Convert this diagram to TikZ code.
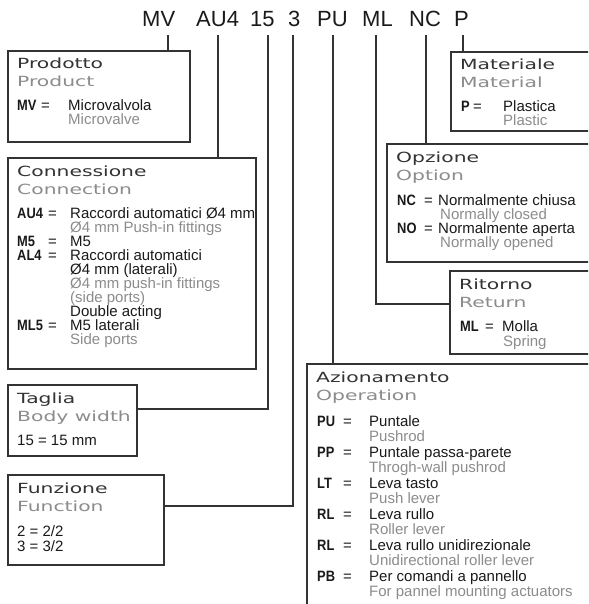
\documentclass[tikz,border=0pt]{standalone}
\usepackage{graphicx}
\usepackage{fontspec}
\setmainfont{Liberation Sans}
\newfontfamily\ttlfont[FakeStretch=1.45]{DejaVu Sans}
\definecolor{ln}{HTML}{333333}
\definecolor{en}{HTML}{8C8C8C}
\definecolor{it}{HTML}{1A1A1A}
\newcommand\codeq[4]{\makebox[#1pt][l]{\scalebox{0.86}[1]{\bfseries #3}}\makebox[#2pt][l]{=}#4}
\tikzset{
  box/.style={draw=ln, line width=1.2pt, fill=white, anchor=north west, inner sep=0pt, outer sep=0pt},
  wire/.style={draw=ln, line width=1.2pt},
  hdr/.style={anchor=base west, inner sep=0pt, font=\fontsize{22}{22}\selectfont, text=it},
  ttl/.style={anchor=base west, inner sep=0pt, font=\ttlfont\fontsize{14}{14}\selectfont, text=ln},
  sub/.style={ttl, text=en},
  bt/.style={anchor=base west, inner sep=0pt, font=\fontsize{15}{15}\selectfont, text=it},
  et/.style={bt, text=en},
}
\begin{document}
\begin{tikzpicture}[x=1pt,y=-1pt]
\clip (0,0) rectangle (588,604);
\fill[white] (0,0) rectangle (588,604);

% header
\node[hdr] (hMV) at (142,27) {MV};
\node[hdr] (hAU) at (196,27) {AU4};
\node[hdr] (h15) at (250,27) {15};
\node[hdr] (h3)  at (288,27) {3};
\node[hdr] (hPU) at (317,27) {PU};
\node[hdr] (hML) at (362,27) {ML};
\node[hdr] (hNC) at (409,27) {NC};
\node[hdr] (hP)  at (454,27) {P};

\coordinate (cMV) at (168,35);
\coordinate (cAU) at (218,35);
\coordinate (c15) at (268,35);
\coordinate (c3)  at (293,35);
\coordinate (cPU) at (333,35);
\coordinate (cML) at (376,35);
\coordinate (cNC) at (426,35);
\coordinate (cP)  at (463,35);
\coordinate (k15) at (0,409);
\coordinate (k3)  at (0,506);
\coordinate (kML) at (0,304);

% boxes
\node[box, minimum width=182pt, minimum height=91pt] (bProd) at (8,51) {};
\node[box, minimum width=248pt, minimum height=211pt] (bConn) at (8,158) {};
\node[box, minimum width=129pt, minimum height=71pt] (bTag) at (8,385) {};
\node[box, minimum width=156pt, minimum height=90pt] (bFun) at (8,475) {};
\node[box, minimum width=169pt, minimum height=79pt] (bMat) at (451,52) {};
\node[box, minimum width=233pt, minimum height=118pt] (bOpz) at (387,144) {};
\node[box, minimum width=170pt, minimum height=83pt] (bRit) at (450,271) {};
\node[box, minimum width=313pt, minimum height=260pt] (bAzi) at (307,364) {};

% connectors
\draw[wire] (cMV) -- (cMV |- bProd.north);
\draw[wire] (cAU) -- (cAU |- bConn.north);
\draw[wire] (c15) |- (bTag.east |- k15);
\draw[wire] (c3)  |- (bFun.east |- k3);
\draw[wire] (cPU) -- (cPU |- bAzi.north);
\draw[wire] (cML) |- (bRit.west |- kML);
\draw[wire] (cNC) -- (cNC |- bOpz.north);
\draw[wire] (cP)  -- (cP |- bMat.north);

% Prodotto
\node[ttl] (pT) at (17,69) {Prodotto};
\node[sub] (pS) at (17,87) {Product};
\node[bt] (p1) at (17,111) {\codeq{24}{27}{MV}{Microvalvola}};
\node[et] (p2) at (68,125) {Microvalve};

% Connessione
\node[ttl] (cT) at (17,176) {Connessione};
\node[sub] (cS) at (17,194) {Connection};
\node[bt] (c1)  at (17,218)   {\codeq{31}{22}{AU4}{Raccordi automatici Ø4 mm}};
\node[et] (c2)  at (70,232.1) {Ø4 mm Push-in fittings};
\node[bt] (c3t) at (17,246.2) {\codeq{31}{22}{M5}{M5}};
\node[bt] (c4)  at (17,260.3) {\codeq{31}{22}{AL4}{Raccordi automatici}};
\node[bt] (c5)  at (70,274.4) {Ø4 mm (laterali)};
\node[et] (c6)  at (70,288.5) {Ø4 mm push-in fittings};
\node[et] (c7)  at (70,302.6) {(side ports)};
\node[bt] (c8)  at (70,316.7) {Double acting};
\node[bt] (c9)  at (17,330.8) {\codeq{31}{22}{ML5}{M5 laterali}};
\node[et] (c10) at (70,344.9) {Side ports};

% Taglia
\node[ttl] (tT) at (17,403) {Taglia};
\node[sub] (tS) at (17,421) {Body width};
\node[bt] (t1) at (17,445) {15 = 15 mm};

% Funzione
\node[ttl] (fT) at (17,493) {Funzione};
\node[sub] (fS) at (17,511) {Function};
\node[bt] (f1) at (17,536) {2 = 2/2};
\node[bt] (f2) at (17,551) {3 = 3/2};

% Materiale
\node[ttl] (mT) at (460,70) {Materiale};
\node[sub] (mS) at (460,88) {Material};
\node[bt] (m1) at (461,112) {\codeq{12}{30}{P}{Plastica}};
\node[et] (m2) at (503,126) {Plastic};

% Opzione
\node[ttl] (oT) at (396,162) {Opzione};
\node[sub] (oS) at (396,180) {Option};
\node[bt] (o1) at (397,205) {\codeq{27}{14}{NC}{Normalmente chiusa}};
\node[et] (o2) at (440,219) {Normally closed};
\node[bt] (o3) at (397,233) {\codeq{27}{14}{NO}{Normalmente aperta}};
\node[et] (o4) at (440,247) {Normally opened};

% Ritorno
\node[ttl] (rT) at (459,289) {Ritorno};
\node[sub] (rS) at (459,307) {Return};
\node[bt] (r1) at (460,331) {\codeq{25}{17}{ML}{Molla}};
\node[et] (r2) at (503,346) {Spring};

% Azionamento
\node[ttl] (aT) at (316,382) {Azionamento};
\node[sub] (aS) at (316,400) {Operation};
\node[bt] (a1)  at (317,426)   {\codeq{26}{26}{PU}{Puntale}};
\node[et] (a2)  at (369,441.5) {Pushrod};
\node[bt] (a3)  at (317,457)   {\codeq{26}{26}{PP}{Puntale passa-parete}};
\node[et] (a4)  at (369,472.5) {Throgh-wall pushrod};
\node[bt] (a5)  at (317,488)   {\codeq{26}{26}{LT}{Leva tasto}};
\node[et] (a6)  at (369,503.5) {Push lever};
\node[bt] (a7)  at (317,519)   {\codeq{26}{26}{RL}{Leva rullo}};
\node[et] (a8)  at (369,534.5) {Roller lever};
\node[bt] (a9)  at (317,550)   {\codeq{26}{26}{RL}{Leva rullo unidirezionale}};
\node[et] (a10) at (369,565.5) {Unidirectional roller lever};
\node[bt] (a11) at (317,581)   {\codeq{26}{26}{PB}{Per comandi a pannello}};
\node[et] (a12) at (369,596.5) {For pannel mounting actuators};
\end{tikzpicture}
\end{document}
